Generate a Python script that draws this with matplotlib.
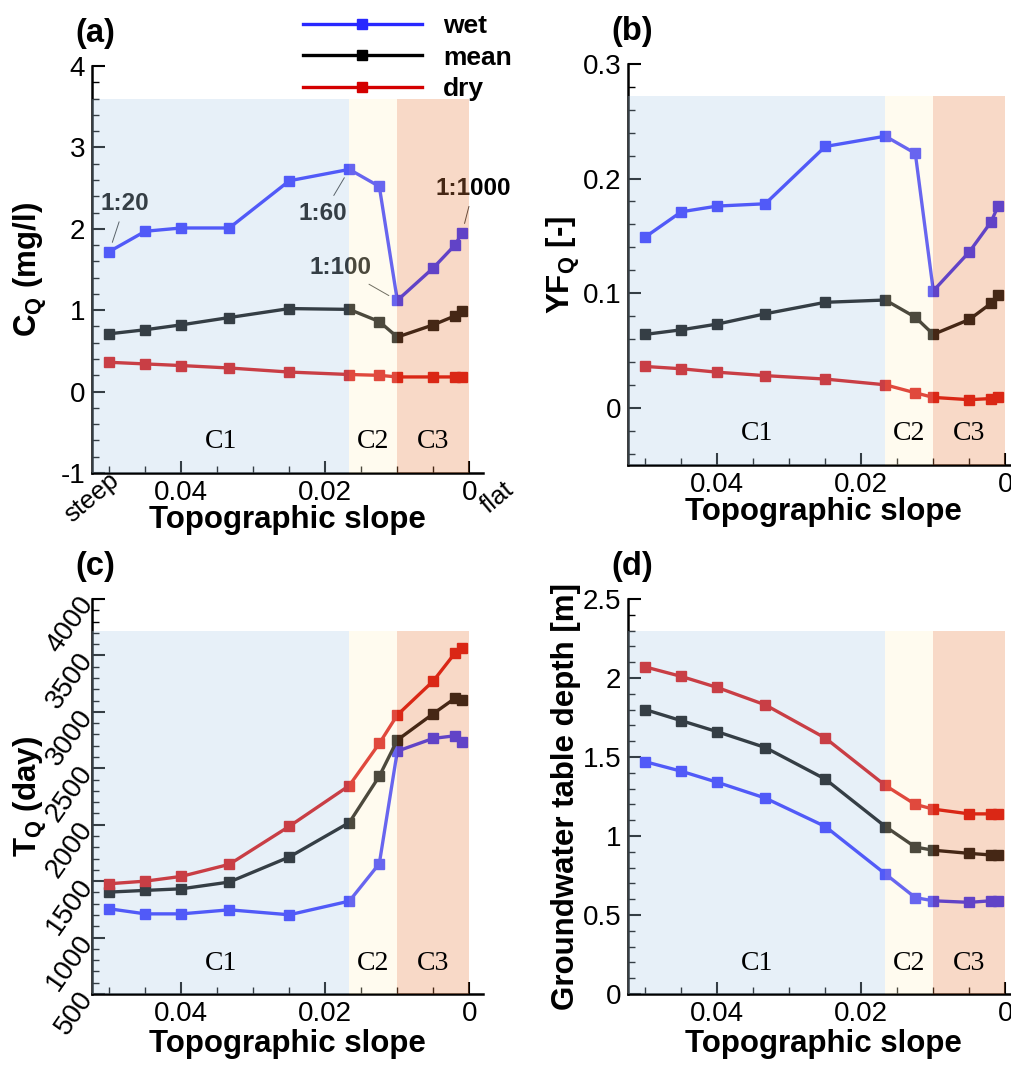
import numpy as np
import matplotlib
matplotlib.use("Agg")
import matplotlib.pyplot as plt
from matplotlib.ticker import MultipleLocator, FuncFormatter

plt.rcParams['font.family'] = ['Liberation Sans', 'DejaVu Sans']
plt.rcParams['mathtext.fontset'] = 'custom'
plt.rcParams['mathtext.rm'] = 'Liberation Sans'
plt.rcParams['mathtext.bf'] = 'Liberation Sans:bold'
plt.rcParams['mathtext.it'] = 'Liberation Sans:italic'

# topographic slope of the 11 cases
slope = [0.05, 0.045, 0.04, 1/30, 0.025, 1/60, 0.0125, 0.01, 0.005, 0.002, 0.001]

cq_wet = [1.72, 1.97, 2.01, 2.01, 2.59, 2.73, 2.52, 1.12, 1.52, 1.80, 1.95]
cq_mean = [0.71, 0.76, 0.82, 0.91, 1.02, 1.01, 0.86, 0.67, 0.82, 0.93, 0.99]
cq_dry = [0.36, 0.34, 0.32, 0.29, 0.24, 0.21, 0.20, 0.18, 0.18, 0.18, 0.18]

yf_wet = [0.149, 0.171, 0.176, 0.178, 0.228, 0.237, 0.222, 0.102, 0.136, 0.162, 0.176]
yf_mean = [0.064, 0.068, 0.073, 0.082, 0.092, 0.094, 0.079, 0.064, 0.077, 0.091, 0.098]
yf_dry = [0.036, 0.034, 0.031, 0.028, 0.025, 0.020, 0.013, 0.009, 0.007, 0.008, 0.009]

tq_wet = [1255, 1210, 1210, 1246, 1202, 1323, 1655, 2652, 2765, 2788, 2735]
tq_mean = [1403, 1418, 1432, 1492, 1714, 2019, 2430, 2750, 2984, 3120, 3102]
tq_dry = [1477, 1500, 1542, 1649, 1986, 2347, 2720, 2972, 3274, 3520, 3564]

gw_wet = [1.47, 1.41, 1.34, 1.24, 1.06, 0.76, 0.61, 0.59, 0.58, 0.59, 0.59]
gw_mean = [1.80, 1.73, 1.66, 1.56, 1.36, 1.06, 0.93, 0.91, 0.89, 0.88, 0.88]
gw_dry = [2.07, 2.01, 1.94, 1.83, 1.62, 1.32, 1.20, 1.17, 1.14, 1.14, 1.14]

series_names = ['wet', 'mean', 'dry']
series_colors = ['#2828FF', '#000000', '#D40000']

# zone limits (C1 / C2 / C3)
zone_names = ['C1', 'C2', 'C3']
zone_edges = [0.0524, 1/60, 0.01, 0.0]
zone_colors = ['#B2D0E8', '#FFF5CD', '#E88448']

xlim = (0.0524, -0.0019)

fig = plt.figure(figsize=(10.12, 10.69), dpi=100)
W, H = 1012, 1069
def box(l, t, r, b):
    return [l / W, 1 - b / H, (r - l) / W, (b - t) / H]

ax_a = fig.add_axes(box(92, 66, 483, 473))
ax_b = fig.add_axes(box(628, 64, 1019, 465))
ax_c = fig.add_axes(box(92, 599, 483, 994))
ax_d = fig.add_axes(box(628, 599, 1019, 994))

panels = [
    (ax_a, [cq_wet, cq_mean, cq_dry], (-1, 4), 1, 0.2, r'C$_\mathbf{Q}$ (mg/l)', '(a)'),
    (ax_b, [yf_wet, yf_mean, yf_dry], (-0.05, 0.3), 0.1, 0.02, r'YF$_\mathbf{Q}$ [-]', '(b)'),
    (ax_c, [tq_wet, tq_mean, tq_dry], (500, 4000), 500, 100, r'T$_\mathbf{Q}$ (day)', '(c)'),
    (ax_d, [gw_wet, gw_mean, gw_dry], (0, 2.5), 0.5, 0.1, 'Groundwater table depth [m]', '(d)'),
]

lines = []
for ax, data, ylim, major, minor, ylabel, tag in panels:
    hpx = ax.get_position().height * H
    wpx = ax.get_position().width * W
    for vals, name, col in zip(data, series_names, series_colors):
        ln, = ax.plot(slope, vals, '-s', color=col, lw=2.4, ms=7.5, label=name, zorder=2, clip_on=False)
        if ax is ax_a:
            lines.append(ln)
    for i, zn in enumerate(zone_names):
        x0, x1 = zone_edges[i], zone_edges[i + 1]
        ax.axvspan(x0, x1, ymin=0, ymax=0.92, color=zone_colors[i], alpha=0.3, lw=0, zorder=4)
        ax.text((x0 + x1) / 2, 0.078, zn, transform=ax.get_xaxis_transform(),
                ha='center', va='center', fontsize=20, family='Liberation Serif', zorder=6)
    ax.set_xlim(*xlim)
    ax.set_ylim(*ylim)
    ax.xaxis.set_major_locator(MultipleLocator(0.02))
    ax.xaxis.set_minor_locator(MultipleLocator(0.005))
    ax.xaxis.set_major_formatter(FuncFormatter(lambda v, p: '%g' % round(v, 4)))
    ax.yaxis.set_major_locator(MultipleLocator(major))
    ax.yaxis.set_minor_locator(MultipleLocator(minor))
    ax.yaxis.set_major_formatter(FuncFormatter(lambda v, p: '%g' % round(v, 4)))
    ax.tick_params(which='both', direction='in', top=False, right=False)
    ax.tick_params(which='major', length=9, width=1.5, labelsize=20, pad=5)
    ax.tick_params(which='minor', length=5, width=1.0)
    for s in ['top', 'right']:
        ax.spines[s].set_visible(False)
    for s in ['left', 'bottom']:
        ax.spines[s].set_linewidth(1.8)
    ax.set_ylabel(ylabel, fontsize=22.5, fontweight='bold')
    ax.yaxis.label.set_va('center')
    ax.yaxis.set_label_coords(-62 / wpx, 0.5)
    ax.set_xlabel('Topographic slope', fontsize=22.5, fontweight='bold')
    ax.xaxis.label.set_va('top')
    ax.xaxis.set_label_coords(0.5, -32 / hpx)
    ax.text(-17 / wpx, 1 + 17 / hpx, tag, transform=ax.transAxes, fontsize=23.5,
            fontweight='bold', ha='left', va='bottom')

# rotated tick labels on panel (c)
for lab in ax_c.get_yticklabels():
    lab.set_rotation(55)
    lab.set_rotation_mode('anchor')
    lab.set_ha('right')
    lab.set_va('center')
ax_c.tick_params(axis='y', which='major', pad=3)
ax_c.xaxis.set_label_coords(0.5, -35 / (ax_c.get_position().height * H))
ax_d.xaxis.set_label_coords(0.5, -35 / (ax_d.get_position().height * H))
ax_b.yaxis.set_label_coords(-65 / (ax_b.get_position().width * W), 0.5)

# steep / flat hints on panel (a)
ax_a.text(0.0525, -0.06, 'steep', transform=ax_a.get_xaxis_transform(), rotation=40,
          ha='center', va='center', fontsize=18.5)
ax_a.text(-0.0039, -0.06, 'flat', transform=ax_a.get_xaxis_transform(), rotation=40,
          ha='center', va='center', fontsize=18.5)

# slope annotations on panel (a)
ann = [(0, '1:20', (0.0478, 2.31)), (5, '1:60', (0.0203, 2.19)),
       (7, '1:100', (0.0179, 1.52)), (10, '1:1000', (-0.0006, 2.50))]
for i, txt, pos in ann:
    ax_a.annotate(txt, xy=(slope[i], cq_wet[i]), xytext=pos, ha='center', va='center',
                  fontsize=17.5, fontweight='bold', color='#000000', zorder=3,
                  arrowprops=dict(arrowstyle='-', color='#333333', lw=0.7, shrinkA=3, shrinkB=7))

fig.legend(handles=lines, loc='upper left', bbox_to_anchor=(303 / W, 1 - 14 / H),
           frameon=False, borderpad=0, borderaxespad=0, handlelength=4.5,
           handletextpad=0.8, labelspacing=0.29, prop={'weight': 'bold', 'size': 19})

fig.savefig('out.png', dpi=100)
